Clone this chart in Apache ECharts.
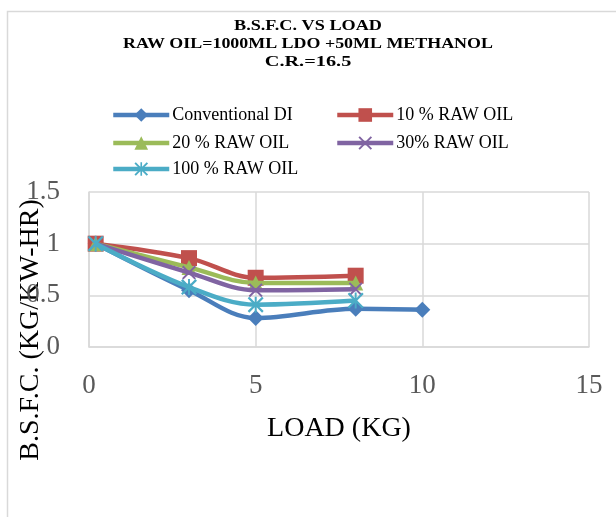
<!DOCTYPE html>
<html>
<head>
<meta charset="utf-8">
<script src="https://cdn.jsdelivr.net/npm/echarts@6/dist/echarts.min.js"></script>
<style>
  html, body { margin: 0; padding: 0; background: #fff; }
  #chart { width: 616px; height: 517px; }
</style>
</head>
<body>
<div id="chart"></div>
<script>
// Load (kg) at each test point
const loads = [0.2, 3, 5, 8, 10];

// Brake specific fuel consumption (kg/kW-hr) per blend
const conventionalDI = [1.0, 0.55, 0.28, 0.37, 0.36];
const rawOil10 = [1.0, 0.86, 0.67, 0.69];
const rawOil20 = [1.0, 0.77, 0.62, 0.62];
const rawOil30 = [1.0, 0.72, 0.55, 0.56];
const rawOil100 = [1.0, 0.58, 0.41, 0.45];

const seriesNames = ['Conventional DI', '10 % RAW OIL', '20 % RAW OIL', '30% RAW OIL', '100 % RAW OIL'];
const seriesValues = [conventionalDI, rawOil10, rawOil20, rawOil30, rawOil100];

const titleLines = ['B.S.F.C. VS LOAD', 'RAW OIL=1000ML LDO +50ML METHANOL', 'C.R.=16.5'];
const xAxisTitle = 'LOAD (KG)';
const yAxisTitle = 'B.S.F.C. (KG/KW-HR)';

const colors = ['#4A7EBB', '#C0504D', '#9BBB59', '#8064A2', '#4BACC6'];
const crossPath = 'path://M0,1 L1,0 L5,4 L9,0 L10,1 L6,5 L10,9 L9,10 L5,6 L1,10 L0,9 L4,5 Z';
const starPath = 'path://M0,1 L1,0 L5,4 L9,0 L10,1 L6,5 L10,9 L9,10 L5,6 L1,10 L0,9 L4,5 Z M4.4,0 L5.6,0 L5.6,10 L4.4,10 Z';
const symbols = ['diamond', 'rect', 'triangle', crossPath, starPath];
const symbolSizes = [16, 16, 15, 14, 16];

const serif = '"Liberation Serif", "Times New Roman", serif';

const series = seriesNames.map((name, i) => ({
  name,
  type: 'line',
  smooth: 0.35,
  data: seriesValues[i].map((v, j) => [loads[j], v]),
  symbol: symbols[i],
  symbolSize: symbolSizes[i],
  lineStyle: { width: 4.5, color: colors[i] },
  itemStyle: { color: colors[i] },
  emphasis: { disabled: true },
  z: 2 + i
}));

// Legend laid out in two columns
const legendPos = [
  { left: 111, top: 106 },
  { left: 335, top: 106 },
  { left: 111, top: 134 },
  { left: 335, top: 134 },
  { left: 111, top: 160 }
];
const legends = seriesNames.map((name, i) => ({
  data: [name],
  left: legendPos[i].left,
  top: legendPos[i].top,
  padding: 0,
  itemWidth: 56,
  itemHeight: 17,
  itemGap: 0,
  selectedMode: false,
  lineStyle: { width: 4.5 },
  textStyle: { fontFamily: serif, fontSize: 18, color: '#000', padding: [0, 0, 0, -2] }
}));

const titleY = [26, 44, 62];
const titleScale = [1.3, 1.28, 1.45];

const graphics = [
  {
    type: 'rect',
    shape: { x: 7.5, y: 11.5, width: 700, height: 600 },
    style: { fill: 'none', stroke: '#D9D9D9', lineWidth: 1.5 },
    silent: true
  },
  ...titleLines.map((t, i) => ({
    type: 'text',
    x: 308,
    y: titleY[i],
    scaleX: titleScale[i],
    style: {
      text: t,
      font: 'bold 14px ' + serif,
      fill: '#000',
      textAlign: 'center',
      textVerticalAlign: 'middle'
    },
    silent: true
  })),
  {
    type: 'text',
    x: 31,
    y: 330,
    rotation: Math.PI / 2,
    style: {
      text: yAxisTitle,
      font: '28px ' + serif,
      fill: '#000',
      textAlign: 'center',
      textVerticalAlign: 'middle'
    },
    silent: true
  }
];

const chart = echarts.init(document.getElementById('chart'), null, { renderer: 'canvas' });
chart.setOption({
  animation: false,
  backgroundColor: '#fff',
  color: colors,
  grid: { left: 89, right: 27, top: 192, bottom: 170, containLabel: false },
  legend: legends,
  xAxis: {
    type: 'value',
    min: 0,
    max: 15,
    interval: 5,
    name: xAxisTitle,
    nameLocation: 'middle',
    nameGap: 68,
    nameTextStyle: { fontFamily: serif, fontSize: 28, color: '#000' },
    axisLine: { show: true, lineStyle: { color: '#D9D9D9', width: 1.5 } },
    axisTick: { show: false },
    splitLine: { show: true, lineStyle: { color: '#D9D9D9', width: 1.5 } },
    axisLabel: { fontFamily: serif, fontSize: 27, color: '#595959', margin: 25 }
  },
  yAxis: {
    type: 'value',
    min: 0,
    max: 1.5,
    interval: 0.5,
    axisLine: { show: true, lineStyle: { color: '#D9D9D9', width: 1.5 } },
    axisTick: { show: false },
    splitLine: { show: true, lineStyle: { color: '#D9D9D9', width: 1.5 } },
    axisLabel: { fontFamily: serif, fontSize: 27, color: '#595959', margin: 29 }
  },
  graphic: graphics,
  series
});
</script>
</body>
</html>
